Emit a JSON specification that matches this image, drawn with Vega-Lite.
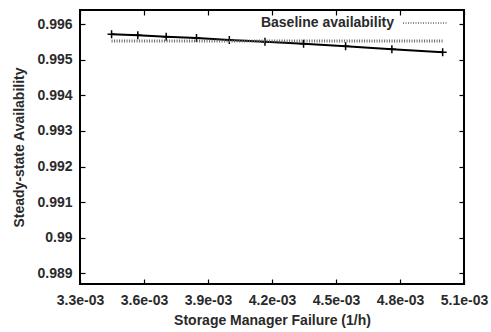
{
  "$schema": "https://vega.github.io/schema/vega-lite/v6.json",
  "width": 384,
  "height": 274,
  "autosize": {"type": "none"},
  "padding": {"left": 80, "top": 10, "right": 27, "bottom": 48},
  "background": "white",
  "config": {
    "view": {"stroke": "black", "strokeWidth": 2},
    "axis": {
      "labelFont": "Liberation Sans", "labelFontWeight": "bold", "labelFontSize": 14, "labelColor": "#2a2a2a",
      "titleFont": "Liberation Sans", "titleFontWeight": "bold", "titleFontSize": 14, "titleColor": "#2a2a2a",
      "domain": false, "grid": false, "tickColor": "black", "tickWidth": 1.2, "tickSize": -5,
      "labelOverlap": false, "labelFlush": false, "labelBound": false
    },
    "legend": {"labelFont": "Liberation Sans", "labelFontWeight": "bold", "labelFontSize": 14, "labelColor": "#2a2a2a", "padding": 0}
  },
  "datasets": {
    "main": [
      {"rate": 0.003448, "availability": 0.99572},
      {"rate": 0.003571, "availability": 0.99569},
      {"rate": 0.003704, "availability": 0.99565},
      {"rate": 0.003846, "availability": 0.99561},
      {"rate": 0.004, "availability": 0.99556},
      {"rate": 0.004167, "availability": 0.99551},
      {"rate": 0.004348, "availability": 0.99545},
      {"rate": 0.004545, "availability": 0.99538},
      {"rate": 0.004762, "availability": 0.9953},
      {"rate": 0.005, "availability": 0.99521}
    ],
    "baseline": [
      {"rate": 0.003448, "availability": 0.99553, "series": "Baseline availability"},
      {"rate": 0.005, "availability": 0.99553, "series": "Baseline availability"}
    ]
  },
  "resolve": {"axis": {"x": "independent", "y": "independent"}},
  "layer": [
    {
      "data": {"name": "main"},
      "mark": {"type": "line", "color": "black", "strokeWidth": 2},
      "encoding": {
        "x": {"field": "rate", "type": "quantitative",
          "scale": {"domain": [0.0033, 0.0051], "nice": false, "zero": false},
          "axis": {"orient": "bottom", "values": [0.0033, 0.0036, 0.0039, 0.0042, 0.0045, 0.0048, 0.0051],
            "labelExpr": "replace(format(datum.value, '.1e'), 'e-3', 'e-03')", "labelPadding": 14,
            "title": "Storage Manager Failure (1/h)", "titlePadding": 6}},
        "y": {"field": "availability", "type": "quantitative",
          "scale": {"domain": [0.9887, 0.9964], "nice": false, "zero": false},
          "axis": {"orient": "left", "values": [0.989, 0.99, 0.991, 0.992, 0.993, 0.994, 0.995, 0.996],
            "format": "~g", "labelPadding": 13, "title": "Steady-state Availability", "titlePadding": 10}}
      }
    },
    {
      "data": {"name": "main"},
      "mark": {"type": "point", "shape": "M-1,0L1,0M0,-1L0,1", "filled": false, "stroke": "black", "strokeWidth": 1.5, "size": 64, "opacity": 1},
      "encoding": {
        "x": {"field": "rate", "type": "quantitative", "axis": null},
        "y": {"field": "availability", "type": "quantitative", "axis": null}
      }
    },
    {
      "data": {"name": "baseline"},
      "mark": {"type": "line", "strokeWidth": 3, "strokeDash": [1, 1.5]},
      "encoding": {
        "x": {"field": "rate", "type": "quantitative", "axis": null},
        "y": {"field": "availability", "type": "quantitative", "axis": null},
        "color": {"field": "series", "type": "nominal",
          "scale": {"domain": ["Baseline availability"], "range": ["#666666"]},
          "legend": {"orient": "none", "legendX": 322, "legendY": -10, "title": null,
            "symbolType": "stroke", "symbolSize": 1936, "symbolStrokeWidth": 1.5, "symbolDash": [1, 1.5],
            "labelAlign": "right", "labelOffset": -54}}
      }
    },
    {
      "data": {"name": "main"},
      "mark": {"type": "line", "opacity": 0},
      "encoding": {
        "x": {"field": "rate", "type": "quantitative",
          "axis": {"orient": "top", "values": [0.0033, 0.0036, 0.0039, 0.0042, 0.0045, 0.0048, 0.0051], "labels": false, "title": null}},
        "y": {"field": "availability", "type": "quantitative",
          "axis": {"orient": "right", "values": [0.989, 0.99, 0.991, 0.992, 0.993, 0.994, 0.995, 0.996], "labels": false, "title": null}}
      }
    }
  ]
}
